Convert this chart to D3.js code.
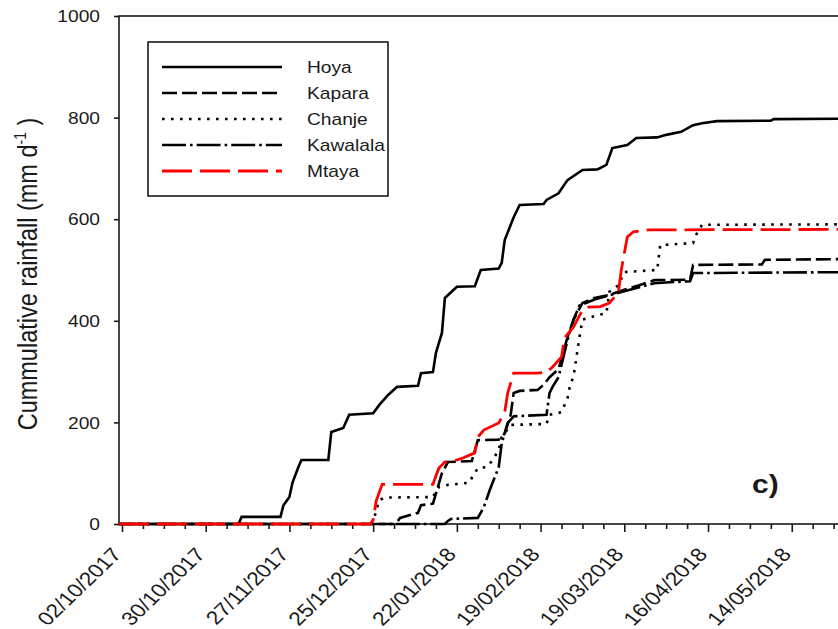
<!DOCTYPE html>
<html><head><meta charset="utf-8">
<script src="https://cdn.jsdelivr.net/npm/d3@7"></script>
<style>
body{margin:0;background:#fff;overflow:hidden}
text{font-family:"Liberation Sans",Arial,sans-serif;fill:#1a1a1a}
</style>
</head><body>
<svg id="c" width="838" height="629"></svg>
<script>
// ---------------- DATA ----------------
const seriesNames = ["Hoya", "Kapara", "Chanje", "Kawalala", "Mtaya"];

const hoya = [
 ["2017-10-01",0],["2017-11-10",0],["2017-11-11",14],["2017-11-24",14],["2017-11-25",37],["2017-11-27",53],
 ["2017-11-28",81],["2017-11-30",112],["2017-12-01",126],["2017-12-10",126],["2017-12-11",181],["2017-12-15",189],
 ["2017-12-17",215],["2017-12-25",218],["2017-12-27",234],["2017-12-30",254],["2018-01-02",270],["2018-01-09",272],
 ["2018-01-10",297],["2018-01-14",299],["2018-01-15",337],["2018-01-17",376],["2018-01-18",445],["2018-01-22",467],
 ["2018-01-28",468],["2018-01-30",500],["2018-02-05",503],["2018-02-06",514],["2018-02-07",559],["2018-02-10",604],
 ["2018-02-12",628],["2018-02-20",630],["2018-02-21",638],["2018-02-25",651],["2018-02-28",677],["2018-03-05",697],
 ["2018-03-10",698],["2018-03-13",707],["2018-03-15",740],["2018-03-20",746],["2018-03-23",760],["2018-03-30",761],
 ["2018-04-02",766],["2018-04-07",772],["2018-04-11",785],["2018-04-14",789],["2018-04-19",793],["2018-05-07",794],
 ["2018-05-08",797],["2018-06-08",798]
];
const kapara = [
 ["2017-10-01",0],["2018-01-01",0],["2018-01-02",4],["2018-01-03",12],["2018-01-09",22],["2018-01-10",37],
 ["2018-01-14",40],["2018-01-15",60],["2018-01-17",100],["2018-01-19",122],["2018-01-27",124],["2018-01-29",165],
 ["2018-02-05",166],["2018-02-07",178],["2018-02-09",215],["2018-02-10",258],["2018-02-12",262],["2018-02-18",264],
 ["2018-02-20",274],["2018-02-22",289],["2018-02-25",305],["2018-02-28",368],["2018-03-02",402],["2018-03-05",435],
 ["2018-03-09",445],["2018-03-14",451],["2018-03-19",461],["2018-03-24",470],["2018-03-29",480],["2018-04-10",481],
 ["2018-04-11",510],["2018-05-04",511],["2018-05-05",520],["2018-06-08",522]
];
const chanje = [
 ["2017-10-01",0],["2017-12-24",0],["2017-12-25",4],["2017-12-27",47],["2017-12-29",52],["2018-01-14",53],
 ["2018-01-16",73],["2018-01-19",77],["2018-01-26",81],["2018-01-29",110],["2018-02-01",112],["2018-02-03",126],
 ["2018-02-05",146],["2018-02-06",171],["2018-02-09",195],["2018-02-21",197],["2018-02-22",215],["2018-02-26",220],
 ["2018-02-28",248],["2018-03-01",277],["2018-03-02",289],["2018-03-03",329],["2018-03-04",368],["2018-03-05",402],
 ["2018-03-10",411],["2018-03-13",415],["2018-03-14",457],["2018-03-17",470],["2018-03-19",496],["2018-03-30",500],
 ["2018-03-31",549],["2018-04-11",553],["2018-04-12",569],["2018-04-14",589],["2018-06-08",590]
];
const kawalala = [
 ["2017-10-01",0],["2018-01-18",0],["2018-01-19",6],["2018-01-20",10],["2018-01-29",12],["2018-01-31",33],
 ["2018-02-02",67],["2018-02-05",112],["2018-02-06",159],["2018-02-08",199],["2018-02-10",212],["2018-02-21",215],
 ["2018-02-22",258],["2018-02-23",270],["2018-02-25",289],["2018-02-28",362],["2018-03-02",402],["2018-03-04",430],
 ["2018-03-09",442],["2018-03-14",450],["2018-03-19",458],["2018-03-24",466],["2018-03-29",474],["2018-04-10",478],
 ["2018-04-11",494],["2018-06-08",496]
];
const mtaya = [
 ["2017-10-01",0],["2017-12-24",0],["2017-12-25",8],["2017-12-26",45],["2017-12-28",78],["2018-01-14",78],
 ["2018-01-15",95],["2018-01-16",110],["2018-01-18",122],["2018-01-22",126],["2018-01-24",130],["2018-01-28",140],
 ["2018-01-29",171],["2018-01-31",185],["2018-02-05",199],["2018-02-07",220],["2018-02-08",258],["2018-02-10",297],
 ["2018-02-18",297],["2018-02-21",299],["2018-02-23",309],["2018-02-26",329],["2018-02-27",366],["2018-03-02",388],
 ["2018-03-05",421],["2018-03-07",427],["2018-03-11",428],["2018-03-14",435],["2018-03-17",455],["2018-03-18",500],
 ["2018-03-19",533],["2018-03-20",565],["2018-03-22",575],["2018-03-27",579],["2018-06-08",580]
];

const xTickLabels = ["02/10/2017","30/10/2017","27/11/2017","25/12/2017","22/01/2018",
                     "19/02/2018","19/03/2018","16/04/2018","14/05/2018"];
const yTicks = [0, 200, 400, 600, 800, 1000];
const yTitle = "Cummulative rainfall (mm d";
const ySup = "-1";
const panelLabel = "c)";

// ---------------- DRAW ----------------
const svg = d3.select("#c");
svg.append("rect").attr("width",838).attr("height",629).attr("fill","#fff");

const parse = d3.utcParse("%Y-%m-%d");
const parseTick = d3.utcParse("%d/%m/%Y");
const x0 = parse("2017-10-01"), x1 = parse("2018-06-08");
const x = d3.scaleUtc().domain([x0, x1]).range([119, 119 + 250 * 2.99]);
const y = d3.scaleLinear().domain([0, 1000]).range([524, 16]);

const axisColor = "#1a1a1a";

// minor ticks (weekly)
const first = parseTick(xTickLabels[0]);
const minorDates = d3.utcDay.range(first, x1, 7).filter((d, i) => i % 4 !== 0);
const gMinor = svg.append("g").attr("transform","translate(0,524)")
  .call(d3.axisBottom(x).tickValues(minorDates).tickSize(5).tickFormat(""));
gMinor.select(".domain").remove();
gMinor.selectAll("line").attr("stroke",axisColor).attr("stroke-width",1.6);

// major ticks
const majorDates = xTickLabels.map(parseTick);
const gMajor = svg.append("g").attr("transform","translate(0,524)")
  .call(d3.axisBottom(x).tickValues(majorDates).tickSize(8)
        .tickFormat((d,i) => xTickLabels[i]));
gMajor.select(".domain").remove();
gMajor.selectAll("line").attr("stroke",axisColor).attr("stroke-width",1.6);
gMajor.selectAll("text")
  .attr("y",0).attr("dy",0).attr("x",0)
  .attr("text-anchor","end")
  .attr("font-size",19)
  .attr("transform","translate(0,31) scale(1.2,1) rotate(-49)")
  .attr("fill",axisColor);

// y axis
const gY = svg.append("g").attr("transform","translate(119,0)")
  .call(d3.axisLeft(y).tickValues(yTicks).tickSize(5).tickFormat(d3.format("d")));
gY.select(".domain").remove();
gY.selectAll("line").attr("stroke",axisColor).attr("stroke-width",1.6);
gY.selectAll("text")
  .attr("x",0).attr("dy","0.36em")
  .attr("text-anchor","end")
  .attr("font-size",16)
  .attr("transform","translate(-19,0) scale(1.2,1)")
  .attr("fill",axisColor);

// frame
const fx0 = x.range()[0], fx1 = x.range()[1];
svg.append("rect").attr("x",fx0).attr("y",y(1000)).attr("width",fx1-fx0).attr("height",y(0)-y(1000))
  .attr("fill","none").attr("stroke",axisColor).attr("stroke-width",1.6);

// y title
const yt = svg.append("text")
  .attr("transform","translate(37,274) scale(1.18,1) rotate(-90)")
  .attr("text-anchor","middle").attr("font-size",23.5);
yt.append("tspan").text(yTitle);
yt.append("tspan").attr("font-size",14).attr("dy",-9).text(ySup);
yt.append("tspan").attr("dy",9).text(" )");

// series
const seriesData = [hoya, kapara, chanje, kawalala, mtaya];
const styles = [
  {stroke:"#000", dash:null, w:2.6},
  {stroke:"#000", dash:"15,5", w:2.6},
  {stroke:"#000", dash:"2.6,6.4", w:2.6},
  {stroke:"#000", dash:"24,4,2.6,4", w:2.6},
  {stroke:"#ff0000", dash:"30,8", w:2.8}
];
svg.append("clipPath").attr("id","clip").append("rect")
  .attr("x",fx0).attr("y",0).attr("width",fx1-fx0).attr("height",535);
const line = d3.line().x(d => x(parse(d[0]))).y(d => y(d[1]));
const gLines = svg.append("g").attr("clip-path","url(#clip)");
seriesData.forEach((s,i) => {
  gLines.append("path").datum(s).attr("d",line)
    .attr("fill","none").attr("stroke",styles[i].stroke)
    .attr("stroke-width",styles[i].w)
    .attr("stroke-dasharray",styles[i].dash)
    .attr("stroke-linejoin","miter");
});

// legend
svg.append("rect").attr("x",148).attr("y",42).attr("width",240).attr("height",154)
  .attr("fill","#fff").attr("stroke",axisColor).attr("stroke-width",1.6);
seriesNames.forEach((n,i) => {
  const ry = 67 + i * 26;
  svg.append("line").attr("x1",162).attr("x2",282).attr("y1",ry).attr("y2",ry)
    .attr("stroke",styles[i].stroke).attr("stroke-width",styles[i].w)
    .attr("stroke-dasharray",styles[i].dash);
  svg.append("text").attr("transform",`translate(307,${ry+6}) scale(1.2,1)`)
    .attr("font-size",16).text(n);
});

// panel label
svg.append("text").attr("transform","translate(752,493) scale(1.2,1)")
  .attr("font-size",25).attr("font-weight","bold").text(panelLabel);
</script>
</body></html>
